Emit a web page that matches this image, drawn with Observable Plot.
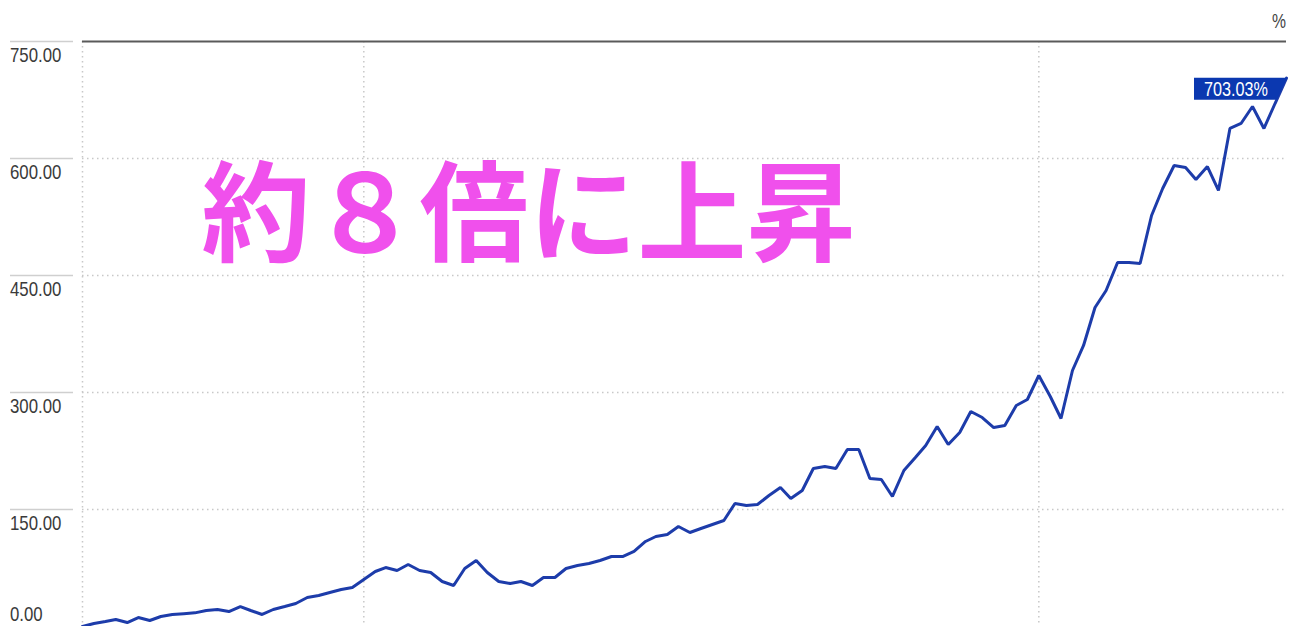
<!DOCTYPE html>
<html>
<head>
<meta charset="utf-8">
<script src="https://cdn.jsdelivr.net/npm/d3@7"></script>
<script src="https://cdn.jsdelivr.net/npm/@observablehq/plot@0.6"></script>
<style>
  html, body { margin: 0; padding: 0; background: #fff; }
  #chart svg { display: block; }
</style>
</head>
<body>
<div id="chart"></div>
<script>
// Monthly cumulative return (%)
const startMonth = "2012-12-01";
const values = [
  0, 3.8, 6.4, 9.0, 5.1, 11.5, 7.7, 12.8, 15.4, 16.5,
  17.5, 20.5, 21.8, 19.2, 25.6, 20.5, 15.4, 21.8, 25.6, 29.5,
  37.2, 39.7, 43.6, 47.4, 50.0, 60.3, 70.5, 75.6, 71.8, 79.5,
  71.8, 69.2, 57.7, 52.6, 74.4, 84.6, 69.2, 57.7, 55.1, 57.7,
  52.6, 62.8, 62.8, 74.4, 78.2, 80.8, 84.6, 89.7, 89.7, 96.2,
  109.0, 115.4, 117.9, 128.2, 120.5, 125.6, 130.8, 135.9, 157.7, 155.1,
  156.4, 167.9, 178.2, 164.1, 174.4, 202.6, 205.1, 202.6, 226.9, 226.9,
  189.7, 188.5, 166.7, 200.0, 216.7, 232.1, 256.4, 233.3, 248.7, 275.6,
  267.9, 255.1, 257.7, 283.3, 291.0, 321.8, 294.9, 266.7, 328.2, 360.3,
  409.0, 430.8, 466.7, 466.7, 465.4, 526.9, 561.5, 591.0, 588.5, 573.1,
  589.7, 559.0, 638.5, 644.9, 666.7, 638.5, 670.5, 703.03
];
const yTicks = [0, 150, 300, 450, 600, 750];
const xGridDates = ["2015-01-01", "2020-01-01"];
const headline = "約８倍に上昇";
const unitLabel = "%";
const endLabelText = "703.03%";

const start = new Date(startMonth);
const dates = d3.utcMonth.range(start, d3.utcMonth.offset(start, values.length));
const data = values.map((v, i) => ({date: dates[i], value: v}));
const last = data[data.length - 1];

const tickFont = "'Liberation Sans', Arial, sans-serif";

// y tick labels drawn through the y scale (narrow face imitated with textLength)
function yLabels(index, scales, values, dims) {
  const g = d3.create("svg:g").attr("font-family", tickFont).attr("font-size", 21).attr("fill", "#3a3a3a");
  for (const t of yTicks) {
    g.append("text")
      .attr("class", "narrow")
      .attr("x", dims.marginLeft - 72)
      .attr("y", scales.y(t) + (t === 0 ? -13 : 13))
      .attr("text-anchor", "start")
      .attr("dominant-baseline", "central")
      .text(t.toFixed(2));
  }
  g.append("text")
    .attr("class", "narrow").attr("data-w", 14)
    .attr("x", dims.width - 10).attr("y", dims.marginTop - 21)
    .attr("text-anchor", "end").attr("dominant-baseline", "central")
    .attr("fill", "#444")
    .text(unitLabel);
  return g.node();
}

function endLabel(index, scales) {
  const x = scales.x(last.date), y = scales.y(last.value);
  const g = d3.create("svg:g");
  g.append("path")
    .attr("d", `M${x - 92},${y} H${x + 1} L${x - 9},${y + 22} H${x - 92} Z`)
    .attr("fill", "#0b38b0");
  g.append("text")
    .attr("class", "narrow")
    .attr("x", x - 82).attr("y", y + 11)
    .attr("text-anchor", "start").attr("dominant-baseline", "central")
    .attr("fill", "#fff").attr("font-size", 20)
    .attr("font-family", tickFont)
    .attr("data-w", 64)
    .text(endLabelText);
  return g.node();
}

const chart = Plot.plot({
  width: 1296,
  height: 626,
  marginLeft: 82,
  marginRight: 10,
  marginTop: 41,
  marginBottom: 0,
  x: {type: "utc", domain: [dates[0], last.date], axis: null},
  y: {domain: [0, 750], axis: null},
  marks: [
    Plot.gridY(yTicks.filter(d => d > 0 && d < 750), {stroke: "#c8c8c8", strokeOpacity: 1, strokeDasharray: "1.5,3.5", strokeWidth: 1.5}),
    Plot.gridX([dates[0], ...xGridDates.map(d => new Date(d))], {stroke: "#c8c8c8", strokeOpacity: 1, strokeDasharray: "1.5,3.5", strokeWidth: 1.5}),
    Plot.ruleY([750], {stroke: "#5a5a5a", strokeWidth: 2}),
    Plot.axisY(yTicks.filter(d => d > 0), {tickSize: 63, dx: -9, tickFormat: () => "", label: null, stroke: "#cfcfcf", strokeWidth: 1.5}),
    yLabels,
    Plot.text([headline], {
      frameAnchor: "top-left", text: d => d, dx: 119, dy: 211, textAnchor: "start",
      lineAnchor: "bottom", fontSize: 109, fontWeight: "bold", fill: "#f050ec",
      fontFamily: "'Noto Sans CJK JP', sans-serif"
    }),
    Plot.line(data, {x: "date", y: "value", stroke: "#1d3caa", strokeWidth: 3, strokeLinejoin: "miter"}),
    endLabel
  ]
});
document.getElementById("chart").appendChild(chart);
// condensed look for the small labels (the reference uses a narrow face)
chart.querySelectorAll("text.narrow").forEach(t => {
  const fixed = t.getAttribute("data-w");
  const w = fixed ? +fixed : t.getComputedTextLength() * 0.8;
  t.setAttribute("textLength", w);
  t.setAttribute("lengthAdjust", "spacingAndGlyphs");
});
</script>
</body>
</html>
